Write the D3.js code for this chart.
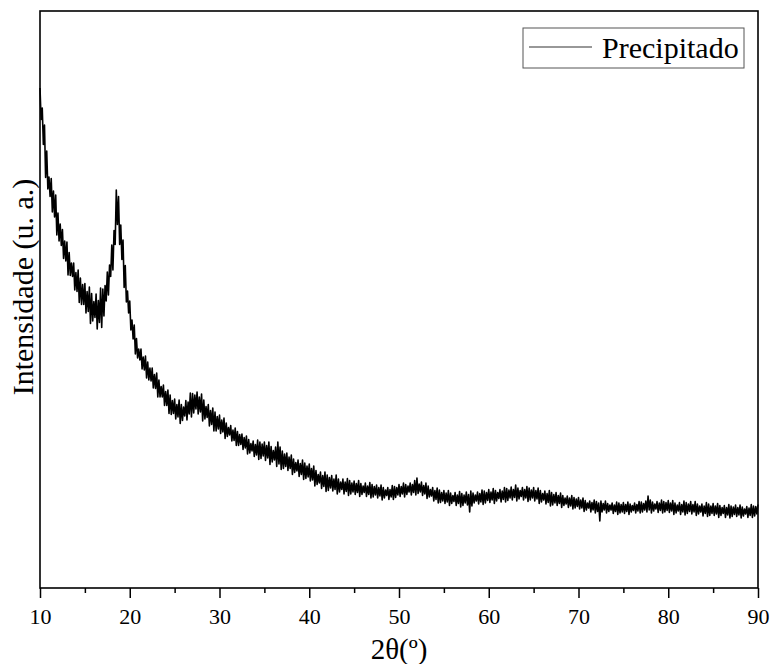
<!DOCTYPE html>
<html>
<head>
<meta charset="utf-8">
<script src="https://cdn.jsdelivr.net/npm/d3@7"></script>
<style>
  body { margin: 0; background: #fff; }
  svg text { font-family: "Liberation Serif", "Times New Roman", serif; fill: #000; }
</style>
</head>
<body>
<div id="chart"></div>
<script>
// 2theta angles (degrees)
const angles = [
  10, 10.125, 10.25, 10.375, 10.5, 10.625, 10.75, 10.875, 11, 11.125, 11.25, 11.375, 11.5, 11.625, 11.75, 11.875,
  12, 12.125, 12.25, 12.375, 12.5, 12.625, 12.75, 12.875, 13, 13.125, 13.25, 13.375, 13.5, 13.625, 13.75, 13.875,
  14, 14.125, 14.25, 14.375, 14.5, 14.625, 14.75, 14.875, 15, 15.125, 15.25, 15.375, 15.5, 15.625, 15.75, 15.875,
  16, 16.125, 16.25, 16.375, 16.5, 16.625, 16.75, 16.875, 17, 17.125, 17.25, 17.375, 17.5, 17.625, 17.75, 17.875,
  18, 18.125, 18.25, 18.375, 18.5, 18.625, 18.75, 18.875, 19, 19.125, 19.25, 19.375, 19.5, 19.625, 19.75, 19.875,
  20, 20.125, 20.25, 20.375, 20.5, 20.625, 20.75, 20.875, 21, 21.125, 21.25, 21.375, 21.5, 21.625, 21.75, 21.875,
  22, 22.125, 22.25, 22.375, 22.5, 22.625, 22.75, 22.875, 23, 23.125, 23.25, 23.375, 23.5, 23.625, 23.75, 23.875,
  24, 24.125, 24.25, 24.375, 24.5, 24.625, 24.75, 24.875, 25, 25.125, 25.25, 25.375, 25.5, 25.625, 25.75, 25.875,
  26, 26.125, 26.25, 26.375, 26.5, 26.625, 26.75, 26.875, 27, 27.125, 27.25, 27.375, 27.5, 27.625, 27.75, 27.875,
  28, 28.125, 28.25, 28.375, 28.5, 28.625, 28.75, 28.875, 29, 29.125, 29.25, 29.375, 29.5, 29.625, 29.75, 29.875,
  30, 30.125, 30.25, 30.375, 30.5, 30.625, 30.75, 30.875, 31, 31.125, 31.25, 31.375, 31.5, 31.625, 31.75, 31.875,
  32, 32.125, 32.25, 32.375, 32.5, 32.625, 32.75, 32.875, 33, 33.125, 33.25, 33.375, 33.5, 33.625, 33.75, 33.875,
  34, 34.125, 34.25, 34.375, 34.5, 34.625, 34.75, 34.875, 35, 35.125, 35.25, 35.375, 35.5, 35.625, 35.75, 35.875,
  36, 36.125, 36.25, 36.375, 36.5, 36.625, 36.75, 36.875, 37, 37.125, 37.25, 37.375, 37.5, 37.625, 37.75, 37.875,
  38, 38.125, 38.25, 38.375, 38.5, 38.625, 38.75, 38.875, 39, 39.125, 39.25, 39.375, 39.5, 39.625, 39.75, 39.875,
  40, 40.125, 40.25, 40.375, 40.5, 40.625, 40.75, 40.875, 41, 41.125, 41.25, 41.375, 41.5, 41.625, 41.75, 41.875,
  42, 42.125, 42.25, 42.375, 42.5, 42.625, 42.75, 42.875, 43, 43.125, 43.25, 43.375, 43.5, 43.625, 43.75, 43.875,
  44, 44.125, 44.25, 44.375, 44.5, 44.625, 44.75, 44.875, 45, 45.125, 45.25, 45.375, 45.5, 45.625, 45.75, 45.875,
  46, 46.125, 46.25, 46.375, 46.5, 46.625, 46.75, 46.875, 47, 47.125, 47.25, 47.375, 47.5, 47.625, 47.75, 47.875,
  48, 48.125, 48.25, 48.375, 48.5, 48.625, 48.75, 48.875, 49, 49.125, 49.25, 49.375, 49.5, 49.625, 49.75, 49.875,
  50, 50.125, 50.25, 50.375, 50.5, 50.625, 50.75, 50.875, 51, 51.125, 51.25, 51.375, 51.5, 51.625, 51.75, 51.875,
  52, 52.125, 52.25, 52.375, 52.5, 52.625, 52.75, 52.875, 53, 53.125, 53.25, 53.375, 53.5, 53.625, 53.75, 53.875,
  54, 54.125, 54.25, 54.375, 54.5, 54.625, 54.75, 54.875, 55, 55.125, 55.25, 55.375, 55.5, 55.625, 55.75, 55.875,
  56, 56.125, 56.25, 56.375, 56.5, 56.625, 56.75, 56.875, 57, 57.125, 57.25, 57.375, 57.5, 57.625, 57.75, 57.875,
  58, 58.125, 58.25, 58.375, 58.5, 58.625, 58.75, 58.875, 59, 59.125, 59.25, 59.375, 59.5, 59.625, 59.75, 59.875,
  60, 60.125, 60.25, 60.375, 60.5, 60.625, 60.75, 60.875, 61, 61.125, 61.25, 61.375, 61.5, 61.625, 61.75, 61.875,
  62, 62.125, 62.25, 62.375, 62.5, 62.625, 62.75, 62.875, 63, 63.125, 63.25, 63.375, 63.5, 63.625, 63.75, 63.875,
  64, 64.125, 64.25, 64.375, 64.5, 64.625, 64.75, 64.875, 65, 65.125, 65.25, 65.375, 65.5, 65.625, 65.75, 65.875,
  66, 66.125, 66.25, 66.375, 66.5, 66.625, 66.75, 66.875, 67, 67.125, 67.25, 67.375, 67.5, 67.625, 67.75, 67.875,
  68, 68.125, 68.25, 68.375, 68.5, 68.625, 68.75, 68.875, 69, 69.125, 69.25, 69.375, 69.5, 69.625, 69.75, 69.875,
  70, 70.125, 70.25, 70.375, 70.5, 70.625, 70.75, 70.875, 71, 71.125, 71.25, 71.375, 71.5, 71.625, 71.75, 71.875,
  72, 72.125, 72.25, 72.375, 72.5, 72.625, 72.75, 72.875, 73, 73.125, 73.25, 73.375, 73.5, 73.625, 73.75, 73.875,
  74, 74.125, 74.25, 74.375, 74.5, 74.625, 74.75, 74.875, 75, 75.125, 75.25, 75.375, 75.5, 75.625, 75.75, 75.875,
  76, 76.125, 76.25, 76.375, 76.5, 76.625, 76.75, 76.875, 77, 77.125, 77.25, 77.375, 77.5, 77.625, 77.75, 77.875,
  78, 78.125, 78.25, 78.375, 78.5, 78.625, 78.75, 78.875, 79, 79.125, 79.25, 79.375, 79.5, 79.625, 79.75, 79.875,
  80, 80.125, 80.25, 80.375, 80.5, 80.625, 80.75, 80.875, 81, 81.125, 81.25, 81.375, 81.5, 81.625, 81.75, 81.875,
  82, 82.125, 82.25, 82.375, 82.5, 82.625, 82.75, 82.875, 83, 83.125, 83.25, 83.375, 83.5, 83.625, 83.75, 83.875,
  84, 84.125, 84.25, 84.375, 84.5, 84.625, 84.75, 84.875, 85, 85.125, 85.25, 85.375, 85.5, 85.625, 85.75, 85.875,
  86, 86.125, 86.25, 86.375, 86.5, 86.625, 86.75, 86.875, 87, 87.125, 87.25, 87.375, 87.5, 87.625, 87.75, 87.875,
  88, 88.125, 88.25, 88.375, 88.5, 88.625, 88.75, 88.875, 89, 89.125, 89.25, 89.375, 89.5, 89.625, 89.75, 89.875,
  90
];

// intensity (arbitrary counts), one value per angle above
const intensity = [
  1000, 937, 960, 887, 926, 821, 874, 798, 822, 783, 819, 752, 794, 742, 786, 706,
  750, 694, 728, 685, 717, 659, 694, 654, 692, 626, 671, 625, 650, 623, 650, 596,
  631, 593, 636, 571, 620, 567, 607, 567, 609, 550, 593, 553, 602, 529, 589, 534,
  573, 541, 588, 518, 575, 531, 600, 521, 598, 544, 605, 574, 632, 586, 646, 623,
  686, 636, 715, 687, 796, 727, 783, 687, 726, 657, 696, 601, 645, 572, 594, 550,
  574, 516, 536, 498, 526, 468, 499, 460, 478, 456, 478, 438, 462, 436, 464, 420,
  452, 416, 440, 414, 440, 400, 427, 399, 430, 382, 416, 382, 403, 382, 406, 365,
  393, 365, 396, 349, 386, 347, 375, 349, 378, 338, 367, 342, 376, 329, 367, 335,
  362, 344, 375, 336, 372, 348, 390, 342, 389, 350, 386, 358, 392, 348, 382, 352,
  388, 334, 376, 338, 363, 341, 367, 324, 355, 327, 360, 314, 352, 314, 343, 318,
  346, 309, 336, 312, 340, 299, 330, 303, 321, 306, 325, 294, 316, 295, 320, 285,
  313, 285, 307, 287, 308, 277, 301, 280, 304, 268, 297, 270, 289, 274, 294, 263,
  287, 266, 296, 257, 292, 259, 288, 264, 292, 255, 285, 260, 292, 247, 283, 252,
  275, 256, 282, 243, 292, 248, 282, 237, 274, 239, 268, 243, 270, 235, 262, 239,
  266, 227, 258, 231, 251, 234, 256, 223, 249, 227, 256, 217, 250, 219, 244, 222,
  248, 214, 239, 216, 244, 204, 235, 207, 227, 210, 232, 199, 225, 203, 232, 193,
  226, 195, 221, 200, 225, 194, 218, 197, 226, 188, 218, 192, 212, 197, 218, 188,
  212, 193, 219, 185, 215, 188, 210, 192, 214, 187, 209, 191, 215, 183, 209, 187,
  204, 191, 210, 183, 204, 187, 211, 180, 207, 182, 203, 186, 206, 180, 201, 184,
  206, 176, 201, 180, 196, 185, 201, 177, 197, 182, 205, 177, 203, 181, 201, 186,
  207, 183, 203, 188, 210, 182, 207, 187, 204, 192, 210, 186, 207, 191, 215, 186,
  220, 189, 208, 192, 212, 185, 205, 188, 210, 179, 204, 182, 197, 184, 201, 174,
  195, 177, 200, 170, 196, 171, 191, 174, 195, 169, 190, 172, 195, 165, 190, 169,
  185, 173, 191, 165, 186, 169, 193, 162, 189, 165, 186, 170, 192, 166, 187, 152,
  194, 164, 190, 170, 186, 174, 192, 168, 189, 172, 196, 167, 194, 170, 191, 175,
  197, 171, 192, 176, 199, 169, 195, 174, 191, 179, 197, 172, 194, 177, 201, 172,
  199, 175, 196, 180, 202, 176, 197, 181, 206, 174, 200, 178, 195, 183, 201, 176,
  197, 180, 203, 173, 200, 176, 196, 180, 201, 174, 195, 178, 200, 169, 195, 172,
  189, 176, 194, 168, 189, 171, 195, 164, 191, 166, 187, 170, 191, 165, 185, 169,
  190, 161, 185, 165, 180, 168, 184, 161, 180, 164, 185, 158, 181, 160, 178, 163,
  181, 158, 176, 160, 180, 153, 175, 156, 170, 160, 174, 152, 171, 156, 176, 150,
  173, 153, 170, 134, 174, 152, 169, 156, 174, 150, 169, 153, 166, 156, 170, 149,
  166, 153, 172, 147, 170, 150, 167, 152, 171, 149, 167, 153, 172, 147, 168, 152,
  165, 155, 170, 150, 167, 154, 173, 150, 172, 152, 169, 156, 174, 152, 184, 156,
  176, 150, 172, 154, 168, 158, 173, 151, 170, 155, 176, 150, 173, 152, 171, 155,
  175, 151, 170, 154, 175, 147, 170, 150, 166, 154, 171, 147, 167, 152, 174, 146,
  171, 149, 168, 153, 173, 148, 167, 152, 173, 145, 168, 148, 164, 152, 168, 144,
  164, 149, 171, 143, 168, 145, 164, 149, 169, 145, 164, 148, 169, 141, 165, 145,
  161, 149, 165, 141, 161, 146, 167, 140, 164, 143, 162, 147, 166, 143, 161, 146,
  166, 140, 162, 144, 158, 148, 163, 141, 160, 145, 167, 141, 164, 144, 163, 148,
  167
];

const xMajorTicks = [10, 20, 30, 40, 50, 60, 70, 80, 90];
const xMinorTicks = [15, 25, 35, 45, 55, 65, 75, 85];
const seriesName = 'Precipitado';

class XrdChart {

  constructor(_config, _data) {
    this.config = {
      parentElement: _config.parentElement,
      containerWidth: _config.containerWidth || 773,
      containerHeight: _config.containerHeight || 664,
      margin: { top: 11, bottom: 76, right: 15, left: 40 }
    }
    this.data = _data;
    this.initVis();
  }

  initVis() {
    const vis = this;

    vis.width = vis.config.containerWidth - vis.config.margin.left - vis.config.margin.right;
    vis.height = vis.config.containerHeight - vis.config.margin.top - vis.config.margin.bottom;

    vis.svg = d3.select(vis.config.parentElement)
        .append('svg')
        .attr('width', vis.config.containerWidth)
        .attr('height', vis.config.containerHeight)
        .append('g')
        .attr('transform', `translate(${vis.config.margin.left}, ${vis.config.margin.top})`);

    vis.xScale = d3.scaleLinear()
        .domain([10, 90])
        .range([0, vis.width]);

    // no y ticks in the original, intensity in arbitrary units
    vis.yScale = d3.scaleLinear()
        .domain([0, 1154])
        .range([vis.height, 0]);

    // data line
    vis.line = d3.line()
        .x(d => vis.xScale(d.angle))
        .y(d => vis.yScale(d.counts));

    vis.svg.append('path')
        .datum(vis.data)
        .attr('class', 'line')
        .attr('d', vis.line)
        .attr('fill', 'none')
        .attr('stroke', '#000')
        .attr('stroke-width', 1.6)
        .attr('stroke-linejoin', 'round');

    // bottom axis: major + minor ticks
    vis.xAxis = d3.axisBottom(vis.xScale)
        .tickValues(xMajorTicks)
        .tickSize(10)
        .tickPadding(10)
        .tickFormat(d3.format('d'));

    vis.xMinorAxis = d3.axisBottom(vis.xScale)
        .tickValues(xMinorTicks)
        .tickSize(5)
        .tickFormat('');

    const xg = vis.svg.append('g')
        .attr('class', 'x-axis')
        .attr('transform', `translate(0, ${vis.height})`)
        .call(vis.xAxis);
    xg.select('.domain').remove();
    xg.selectAll('line').attr('stroke', '#000').attr('stroke-width', 1.5);
    xg.selectAll('text').attr('font-size', 22).attr('font-family', '"Liberation Serif", serif');

    const xm = vis.svg.append('g')
        .attr('transform', `translate(0, ${vis.height})`)
        .call(vis.xMinorAxis);
    xm.select('.domain').remove();
    xm.selectAll('line').attr('stroke', '#000').attr('stroke-width', 1.5);

    // frame
    vis.svg.append('rect')
        .attr('width', vis.width)
        .attr('height', vis.height)
        .attr('fill', 'none')
        .attr('stroke', '#000')
        .attr('stroke-width', 1.6);

    // axis titles
    vis.svg.append('text')
        .attr('x', vis.width / 2)
        .attr('y', vis.height + 71)
        .attr('text-anchor', 'middle')
        .attr('font-size', 29)
        .text('2θ(º)');

    vis.svg.append('text')
        .attr('transform', `translate(-7, 276) rotate(-90)`)
        .attr('text-anchor', 'middle')
        .attr('font-size', 30)
        .text('Intensidade (u. a.)');

    // legend
    const lg = vis.svg.append('g')
        .attr('transform', `translate(${vis.width - 235}, 17)`);
    lg.append('rect')
        .attr('width', 221)
        .attr('height', 40)
        .attr('fill', '#fff')
        .attr('stroke', '#555')
        .attr('stroke-width', 1);
    lg.append('line')
        .attr('x1', 6).attr('x2', 69)
        .attr('y1', 19).attr('y2', 19)
        .attr('stroke', '#333')
        .attr('stroke-width', 1.2);
    lg.append('text')
        .attr('x', 79)
        .attr('y', 30)
        .attr('font-size', 30)
        .text(seriesName);
  }
}

const xrdData = angles.map((a, i) => ({ angle: a, counts: intensity[i] }));
new XrdChart({ parentElement: '#chart' }, xrdData);
</script>
</body>
</html>
